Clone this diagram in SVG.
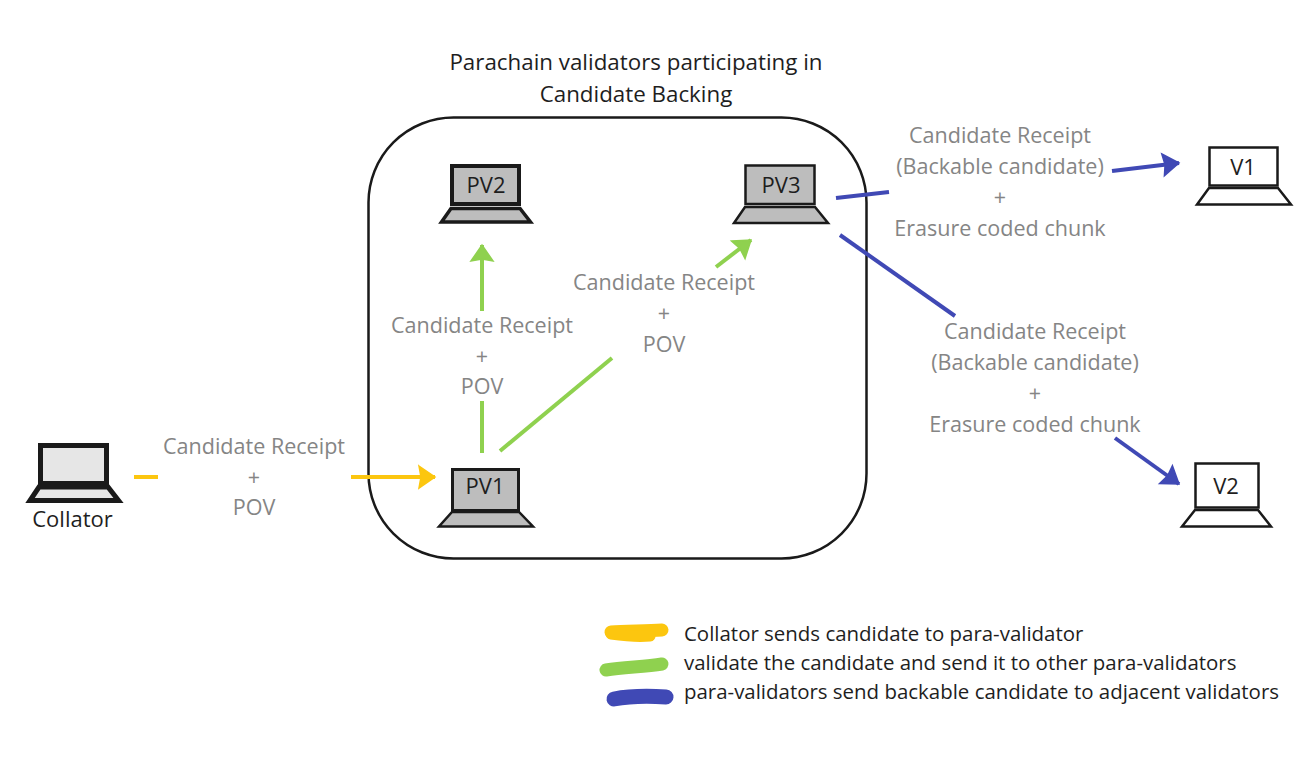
<svg xmlns="http://www.w3.org/2000/svg" width="1304" height="766" viewBox="0 0 1304 766">
<style>
text{font-family:"Open Sans","Noto Sans","Liberation Sans",sans-serif;text-anchor:middle;fill:#1e1e1e}
.t{font-size:22.35px}
.l{font-size:21.55px;fill:#858585}
.k{font-size:20.45px;text-anchor:start}
.n{font-size:22px}
.s{stroke:#1a1a1a;stroke-linejoin:miter}
.c{fill:none;stroke-width:4}
.y{stroke:#fcc60f}.g{stroke:#8fd14f}.b{stroke:#4049b5}
</style>
<defs>
<marker id="ay" markerUnits="userSpaceOnUse" markerWidth="26" markerHeight="28" refX="22" refY="14" orient="auto"><path d="M6 3L22 14L6 25L8 14Z" fill="#fcc60f" stroke="#fcc60f" stroke-width="1.500"/></marker>
<marker id="ag" markerUnits="userSpaceOnUse" markerWidth="26" markerHeight="28" refX="22" refY="14" orient="auto"><path d="M6 3L22 14L6 25L8 14Z" fill="#8fd14f" stroke="#8fd14f" stroke-width="1.500"/></marker>
<marker id="ab" markerUnits="userSpaceOnUse" markerWidth="26" markerHeight="28" refX="22" refY="14" orient="auto"><path d="M6 3L22 14L6 25L8 14Z" fill="#4049b5" stroke="#4049b5" stroke-width="1.500"/></marker>
</defs>
<rect width="1304" height="766" fill="#fff"/>
<g id="backing-group">
<rect x="368.500" y="117.500" width="498" height="441" rx="85" fill="none" stroke="#1a1a1a" stroke-width="2.500"/>
<text class="t" x="636" y="70">Parachain validators participating in</text>
<text class="t" x="636" y="102">Candidate Backing</text>
</g>
<g id="connectors">
<path class="c y" d="M134 477H158"/>
<path class="c y" d="M351 477H435" marker-end="url(#ay)"/>
<path class="c g" d="M482 311V245" marker-end="url(#ag)"/>
<path class="c g" d="M482 453V401"/>
<path class="c g" d="M500 451L612 358"/>
<path class="c g" d="M716 267L751 240" marker-end="url(#ag)"/>
<path class="c b" d="M836 198L889 192"/>
<path class="c b" d="M1112 171L1179 163" marker-end="url(#ab)"/>
<path class="c b" d="M840 235L955 316"/>
<path class="c b" d="M1115 438L1179 484" marker-end="url(#ab)"/>
</g>
<g id="connector-labels">
<text class="l" x="254" y="454">Candidate Receipt</text><text class="l" x="254" y="485">+</text><text class="l" x="254" y="515">POV</text>
<text class="l" x="482" y="333">Candidate Receipt</text><text class="l" x="482" y="364">+</text><text class="l" x="482" y="394">POV</text>
<text class="l" x="664" y="290">Candidate Receipt</text><text class="l" x="664" y="321">+</text><text class="l" x="664" y="352">POV</text>
<text class="l" x="1000" y="143">Candidate Receipt</text><text class="l" x="1000" y="174">(Backable candidate)</text><text class="l" x="1000" y="205">+</text><text class="l" x="1000" y="236">Erasure coded chunk</text>
<text class="l" x="1035" y="339">Candidate Receipt</text><text class="l" x="1035" y="370">(Backable candidate)</text><text class="l" x="1035" y="401">+</text><text class="l" x="1035" y="432">Erasure coded chunk</text>
</g>
<g id="collator">
<rect class="s" x="40.500" y="445.500" width="66" height="38" fill="#e6e6e6" stroke-width="5"/>
<path class="s" d="M39 487H108L118.500 500.500H30Z" fill="#e6e6e6" stroke-width="5"/>
<text class="n" x="72.500" y="527">Collator</text>
</g>
<g id="pv1">
<rect class="s" x="452.500" y="469.500" width="66" height="41" fill="#bdbdbd" stroke-width="3"/>
<path class="s" d="M452 512H519L533 526.500H439Z" fill="#bdbdbd" stroke-width="2.500"/>
<text class="n" x="485" y="494">PV1</text>
</g>
<g id="pv2">
<rect class="s" x="452" y="166" width="67" height="38" fill="#bdbdbd" stroke-width="4"/>
<path class="s" d="M451 208.500H520L530.500 222H441.500Z" fill="#bdbdbd" stroke-width="3.500"/>
<text class="n" x="486" y="193">PV2</text>
</g>
<g id="pv3">
<rect class="s" x="745.500" y="165.500" width="69" height="38.500" fill="#bdbdbd" stroke-width="2.500"/>
<path class="s" d="M745 207H815L828 223H734Z" fill="#bdbdbd" stroke-width="2.500"/>
<text class="n" x="781" y="193">PV3</text>
</g>
<g id="v1">
<rect class="s" x="1209.500" y="147.500" width="68" height="38" fill="#fff" stroke-width="2.500"/>
<path class="s" d="M1209 188H1278L1291 204.500H1197Z" fill="#fff" stroke-width="2.500"/>
<text class="n" x="1243" y="175">V1</text>
</g>
<g id="v2">
<rect class="s" x="1195.500" y="463.500" width="63" height="44" fill="#fff" stroke-width="2.500"/>
<path class="s" d="M1195 510H1258L1271 526.500H1182Z" fill="#fff" stroke-width="2.500"/>
<text class="n" x="1226" y="494">V2</text>
</g>
<g id="legend">
<path d="M611 632C625 631 645 631 662 630" fill="none" stroke="#fcc60f" stroke-width="13" stroke-linecap="round"/>
<path d="M611 634C625 636 640 637 650 636" fill="none" stroke="#fcc60f" stroke-width="11" stroke-linecap="round"/>
<path d="M606 670C625 667 645 667 662 664" fill="none" stroke="#8fd14f" stroke-width="13" stroke-linecap="round"/>
<path d="M614 699C630 696 650 696 666 697" fill="none" stroke="#4049b5" stroke-width="15" stroke-linecap="round"/>
<text class="k" x="684" y="641">Collator sends candidate to para-validator</text>
<text class="k" x="684" y="670">validate the candidate and send it to other para-validators</text>
<text class="k" x="684" y="699">para-validators send backable candidate to adjacent validators</text>
</g>
</svg>
